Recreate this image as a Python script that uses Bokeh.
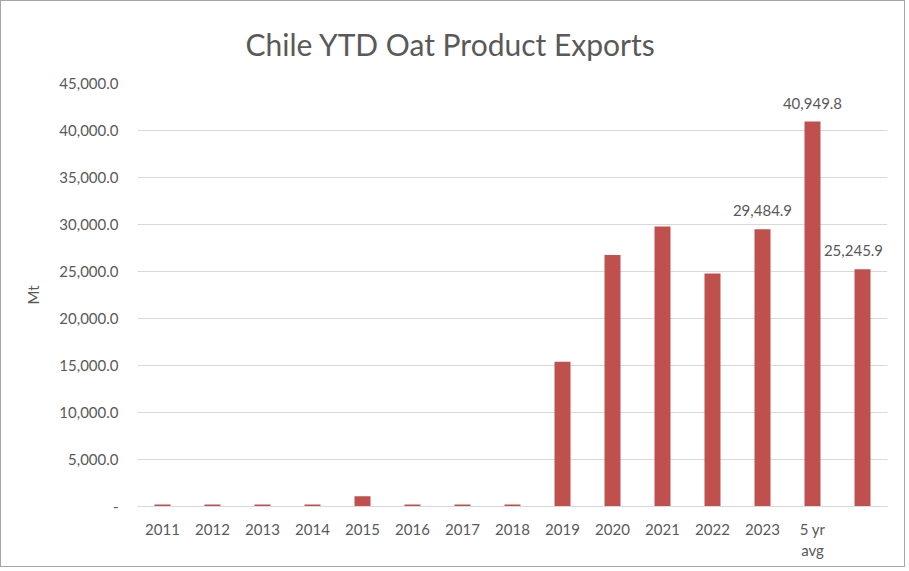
from bokeh.plotting import figure
from bokeh.models import ColumnDataSource, FactorRange, Range1d, NumeralTickFormatter, LabelSet
from bokeh.core.properties import value
from bokeh.embed import file_html
from bokeh.resources import INLINE

categories = ["2011", "2012", "2013", "2014", "2015", "2016", "2017", "2018",
              "2019", "2020", "2021", "2022", "2023", "5 yr\navg", " "]
exports_mt = [200, 200, 200, 200, 1100, 200, 200, 200,
              15400, 26750, 29800, 24800, 29484.9, 40949.8, 25245.9]
labelled = ["2023", "5 yr\navg", " "]
y_ticks = [0, 5000, 10000, 15000, 20000, 25000, 30000, 35000, 40000, 45000]

FONT = "Lato"
GREY = "#595959"
GRID = "#d9d9d9"
BAR = "#c0504d"

src = ColumnDataSource(dict(cat=categories, val=exports_mt))
lab_vals = [exports_mt[categories.index(c)] for c in labelled]
lab_src = ColumnDataSource(dict(cat=labelled, val=lab_vals,
                                txt=[f"{v:,.1f}" for v in lab_vals],
                                dx=[0, 0, -9]))

p = figure(width=905, height=567, x_range=FactorRange(*categories),
           y_range=Range1d(0, 45000), output_backend="svg", toolbar_location=None,
           min_border_left=136, min_border_right=19, min_border_top=82,
           min_border_bottom=62, title="Chile YTD Oat Product Exports")

p.vbar(x="cat", top="val", width=0.32, source=src, fill_color=BAR, line_color=None)
labels = LabelSet(x="cat", y="val", text="txt", source=lab_src, text_align="center",
                  text_baseline="alphabetic", x_offset="dx", y_offset=13,
                  text_font=value(FONT), text_font_size="15px", text_color=GREY)
p.add_layout(labels)

p.title.text_font = FONT
p.title.text_font_size = "30px"
p.title.text_font_style = "normal"
p.title.text_color = GREY
p.title.align = "left"
p.title.offset = 108
p.title.standoff = 44

p.outline_line_color = None
p.background_fill_color = "white"
p.border_fill_color = "white"
p.styles = {"border": "1px solid #a6a6a6"}

p.xgrid.grid_line_color = None
p.ygrid.grid_line_color = GRID
p.ygrid.grid_line_width = 1

yax = p.yaxis[0]
yax.ticker = y_ticks
yax.formatter = NumeralTickFormatter(format="0,0.0")
yax.major_label_overrides = {0: "-"}
yax.axis_line_color = None
yax.major_tick_line_color = None
yax.minor_tick_line_color = None
yax.major_label_standoff = 13
yax.major_label_text_font = FONT
yax.major_label_text_font_size = "15px"
yax.major_label_text_color = GREY
yax.axis_label = "Mt"
yax.axis_label_text_font = FONT
yax.axis_label_text_font_size = "15px"
yax.axis_label_text_font_style = "normal"
yax.axis_label_text_color = GREY
yax.axis_label_standoff = 14

xax = p.xaxis[0]
xax.axis_line_color = GRID
xax.axis_line_width = 1
xax.major_tick_line_color = None
xax.minor_tick_line_color = None
xax.major_label_standoff = 7
xax.major_label_text_font = FONT
xax.major_label_text_font_size = "15px"
xax.major_label_text_color = GREY

open("out.html", "w").write(file_html(p, INLINE))
